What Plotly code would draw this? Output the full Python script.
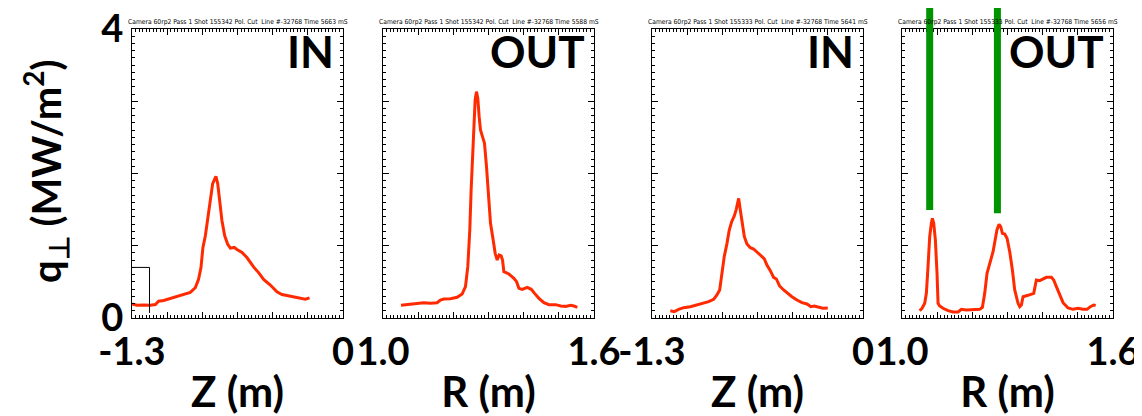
import plotly.graph_objects as go

# ---------------- data ----------------
titles = [
    "Camera 60rp2 Pass 1 Shot 155342 Pol. Cut  Line #-32768 Time 5663 mS",
    "Camera 60rp2 Pass 1 Shot 155342 Pol. Cut  Line #-32768 Time 5588 mS",
    "Camera 60rp2 Pass 1 Shot 155333 Pol. Cut  Line #-32768 Time 5641 mS",
    "Camera 60rp2 Pass 1 Shot 155333 Pol. Cut  Line #-32768 Time 5656 mS",
]
side_labels = ["IN", "OUT", "IN", "OUT"]
x_titles = ["Z (m)", "R (m)", "Z (m)", "R (m)"]
x_ranges = [(-1.3, 0.0), (1.0, 1.6), (-1.3, 0.0), (1.0, 1.6)]
x_end_labels = [("-1.3", "0"), ("1.0", "1.6"), ("-1.3", "0"), ("1.0", "1.6")]
y_range = (0, 4)
y_end_labels = ("0", "4")

z1 = [-1.300, -1.269, -1.228, -1.187, -1.156, -1.136, -1.105, -1.064, -1.023, -0.982,
      -0.941, -0.910, -0.890, -0.875, -0.863, -0.848, -0.834, -0.818, -0.803, -0.783,
      -0.772, -0.760, -0.746, -0.729, -0.711, -0.694, -0.670, -0.653, -0.622, -0.592,
      -0.551, -0.520, -0.489, -0.448, -0.407, -0.376, -0.345, -0.304, -0.263, -0.232, -0.206]
q1 = [0.196, 0.177, 0.180, 0.177, 0.186, 0.233, 0.242, 0.270, 0.289, 0.317,
      0.354, 0.419, 0.535, 0.698, 0.977, 1.139, 1.349, 1.628, 1.860, 1.962,
      1.860, 1.628, 1.349, 1.139, 1.023, 0.967, 0.977, 0.949, 0.907, 0.837,
      0.707, 0.628, 0.535, 0.456, 0.363, 0.326, 0.312, 0.289, 0.270, 0.261, 0.279]

r2 = [1.0512, 1.0683, 1.0873, 1.1158, 1.1348, 1.1538, 1.1632, 1.1727, 1.1917, 1.2107,
      1.2250, 1.2345, 1.2411, 1.2468, 1.2506, 1.2544, 1.2582, 1.2620, 1.2658, 1.2696,
      1.2734, 1.2772, 1.2829, 1.2886, 1.2943, 1.3000, 1.3057, 1.3133, 1.3190, 1.3247,
      1.3304, 1.3361, 1.3399, 1.3437, 1.3579, 1.3722, 1.3798, 1.3865, 1.3959, 1.4102,
      1.4216, 1.4311, 1.4434, 1.4576, 1.4719, 1.4909, 1.5051, 1.5194, 1.5336, 1.5431, 1.5526]
q2 = [0.175, 0.185, 0.194, 0.212, 0.203, 0.212, 0.249, 0.263, 0.268, 0.286,
      0.332, 0.434, 0.710, 1.218, 1.772, 2.279, 2.740, 3.017, 3.133, 3.040,
      2.787, 2.602, 2.510, 2.418, 2.095, 1.633, 1.310, 1.080, 0.895, 0.803,
      0.872, 0.860, 0.803, 0.641, 0.609, 0.549, 0.503, 0.411, 0.397, 0.424,
      0.397, 0.341, 0.272, 0.212, 0.185, 0.185, 0.166, 0.161, 0.175, 0.166, 0.148]

z3 = [-1.187, -1.163, -1.136, -1.105, -1.064, -1.023, -0.982, -0.951, -0.920, -0.900,
      -0.883, -0.869, -0.855, -0.838, -0.824, -0.809, -0.793, -0.781, -0.766, -0.756,
      -0.744, -0.731, -0.715, -0.694, -0.674, -0.653, -0.633, -0.608, -0.592, -0.571,
      -0.551, -0.534, -0.514, -0.489, -0.464, -0.438, -0.407, -0.376, -0.345, -0.321,
      -0.300, -0.278, -0.248, -0.217]
q3 = [0.101, 0.088, 0.120, 0.143, 0.157, 0.185, 0.203, 0.226, 0.258, 0.318,
      0.388, 0.618, 0.849, 1.033, 1.218, 1.333, 1.412, 1.504, 1.656, 1.495,
      1.310, 1.126, 1.024, 0.973, 0.955, 0.918, 0.872, 0.817, 0.734, 0.655,
      0.563, 0.540, 0.443, 0.388, 0.341, 0.295, 0.249, 0.212, 0.194, 0.157,
      0.166, 0.148, 0.134, 0.138]

r4 = [1.0503, 1.0570, 1.0646, 1.0693, 1.0740, 1.0788, 1.0835, 1.0864, 1.0902, 1.0949,
      1.0996, 1.1025, 1.1072, 1.1167, 1.1309, 1.1451, 1.1594, 1.1688, 1.1831, 1.2020,
      1.2210, 1.2286, 1.2352, 1.2418, 1.2494, 1.2589, 1.2665, 1.2703, 1.2760, 1.2807,
      1.2855, 1.2921, 1.2987, 1.3063, 1.3139, 1.3205, 1.3300, 1.3347, 1.3395, 1.3442,
      1.3584, 1.3679, 1.3746, 1.3802, 1.3822, 1.3916, 1.4011, 1.4106, 1.4248, 1.4314,
      1.4390, 1.4485, 1.4580, 1.4722, 1.4864, 1.5006, 1.5149, 1.5262, 1.5357, 1.5452, 1.5509]
q4 = [0.101, 0.134, 0.203, 0.341, 0.710, 1.126, 1.310, 1.380, 1.310, 1.080,
      0.618, 0.203, 0.166, 0.134, 0.101, 0.083, 0.083, 0.120, 0.111, 0.120,
      0.120, 0.148, 0.341, 0.618, 0.757, 0.918, 1.126, 1.227, 1.296, 1.264,
      1.172, 1.163, 1.103, 0.918, 0.664, 0.388, 0.203, 0.157, 0.180, 0.295,
      0.314, 0.328, 0.341, 0.480, 0.526, 0.517, 0.544, 0.563, 0.563, 0.526,
      0.434, 0.318, 0.212, 0.138, 0.120, 0.134, 0.120, 0.120, 0.157, 0.180, 0.175]

xs = [z1, r2, z3, r4]
qs = [q1, q2, q3, q4]

# black reference box in panel 1 (step outline)
box_z = [-1.300, -1.192, -1.192]
box_q = [0.70, 0.70, 0.07]

# green markers in panel 4: R position and lower end (q)
green_r = [1.0788, 1.2713]
green_q = [1.495, 1.449]

# ---------------- layout ----------------
# page has an 8px body margin, so the figure occupies page (8,8)-(1142,416)
OFF = 8
W, H = 1142 - OFF, 416 - OFF
panel_px = [(132, 343), (383, 594), (652, 863), (902, 1113)]
y_top_px, y_bot_px = 29, 318
ydom = [1 - (y_bot_px - OFF) / H, 1 - (y_top_px - OFF) / H]

FONT = "Lato"
RED = "#ff2a00"
GREEN = "#009400"

fig = go.Figure()
for i in range(4):
    sfx = "" if i == 0 else str(i + 1)
    fig.add_trace(go.Scatter(x=xs[i], y=qs[i], mode="lines",
                             line=dict(color=RED, width=3),
                             xaxis="x" + sfx, yaxis="y" + sfx, showlegend=False))

fig.add_trace(go.Scatter(x=box_z, y=box_q, mode="lines",
                         line=dict(color="black", width=1),
                         xaxis="x", yaxis="y", showlegend=False))

axes = {}
for i in range(4):
    sfx = "" if i == 0 else str(i + 1)
    x0, x1 = x_ranges[i]
    step = (x1 - x0) / 6
    tv = [x0 + k * step for k in range(7)]
    tt = [x_end_labels[i][0]] + [" "] * 5 + [x_end_labels[i][1]]
    axes["xaxis" + sfx] = dict(
        domain=[(panel_px[i][0] - OFF) / W, (panel_px[i][1] - OFF) / W], anchor="y" + sfx,
        range=[x0, x1], tickmode="array", tickvals=tv, ticktext=tt, tickangle=0,
        ticks="inside", ticklen=6, tickwidth=1, tickcolor="black",
        minor=dict(ticks="inside", ticklen=3, tickwidth=1, tickcolor="black",
                   tick0=x0, dtick=step / 10),
        showline=True, linecolor="black", linewidth=1, mirror="allticks",
        showgrid=False, zeroline=False, automargin=False,
        tickfont=dict(family=FONT, size=38, color="black", weight="bold"),
        title=dict(text=x_titles[i], standoff=2,
                   font=dict(family=FONT, size=42, color="black", weight="bold")),
    )
    axes["yaxis" + sfx] = dict(
        domain=ydom, anchor="x" + sfx, range=list(y_range),
        tickmode="array", tickvals=[0, 1, 2, 3, 4],
        ticktext=[y_end_labels[0], " ", " ", " ", y_end_labels[1]],
        showticklabels=(i == 0), tickangle=0,
        ticks="inside", ticklen=6, tickwidth=1, tickcolor="black",
        minor=dict(ticks="inside", ticklen=3, tickwidth=1, tickcolor="black",
                   tick0=0, dtick=0.1),
        showline=True, linecolor="black", linewidth=1, mirror="allticks",
        showgrid=False, zeroline=False, automargin=False,
        tickfont=dict(family=FONT, size=38, color="black", weight="bold"),
    )

annotations = []
for i in range(4):
    sfx = "" if i == 0 else str(i + 1)
    annotations.append(dict(
        text=titles[i], xref="x" + sfx + " domain", yref="paper",
        x=0.5, y=1 - (22 - OFF) / H, xanchor="center", yanchor="middle", showarrow=False,
        font=dict(family="DejaVu Sans Condensed, DejaVu Sans", size=6.7, color="black")))
    annotations.append(dict(
        text=side_labels[i], xref="x" + sfx + " domain", yref="y" + sfx + " domain",
        x=0.965, y=1.0, yshift=6, xanchor="right", yanchor="top", showarrow=False,
        font=dict(family=FONT, size=44, color="black", weight="bold")))

annotations.append(dict(
    text="q<sub>⊥</sub> (MW/m<sup>2</sup>)", xref="paper", yref="paper",
    x=(45 - OFF) / W, y=1 - (172 - OFF) / H, xanchor="center", yanchor="middle",
    textangle=-90, showarrow=False,
    font=dict(family=FONT, size=40, color="black", weight="bold")))

shapes = []
dom_h = ydom[1] - ydom[0]
for r, q in zip(green_r, green_q):
    shapes.append(dict(type="line", xref="x4", yref="paper",
                       x0=r, x1=r, y0=ydom[0] + q / (y_range[1] - y_range[0]) * dom_h, y1=1.0,
                       line=dict(color=GREEN, width=7), layer="above"))

fig.update_layout(width=W, height=H, margin=dict(l=0, r=0, t=0, b=0, autoexpand=False),
                  paper_bgcolor="white", plot_bgcolor="white",
                  annotations=annotations, shapes=shapes, **axes)

fig.write_html("out.html")
